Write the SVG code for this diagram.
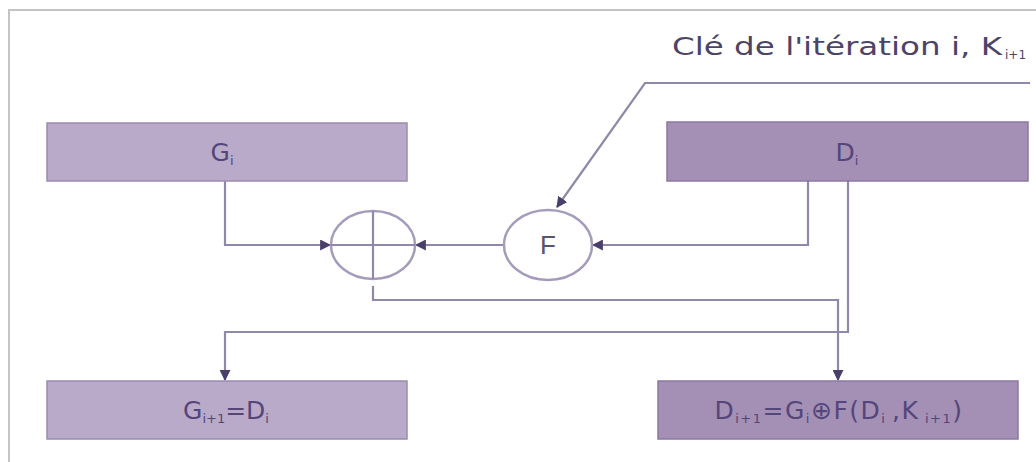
<svg xmlns="http://www.w3.org/2000/svg" width="1036" height="462" viewBox="0 0 1036 462">
  <style>
    .frame { fill: none; stroke: #c4c4c8; stroke-width: 2; }
    .boxL { fill: #b9aac9; stroke: #9a8cae; stroke-width: 1.5; }
    .boxD { fill: #a48fb5; stroke: #8a78a0; stroke-width: 1.5; }
    .op { fill: #ffffff; stroke: #a59cbc; stroke-width: 2.5; }
    .wire { fill: none; stroke: #9088a8; stroke-width: 2.2; }
    .lbl { font-family: "DejaVu Sans", "Liberation Sans", sans-serif; fill: #54467a; font-size: 25px; }
    .sub { font-size: 13px; }
    .key { font-family: "DejaVu Sans", "Liberation Sans", sans-serif; fill: #4c4466; font-size: 25px; }
    .keysub { font-family: "DejaVu Sans", "Liberation Sans", sans-serif; fill: #4c4466; font-size: 12px; }
    .f { font-family: "Liberation Sans", "DejaVu Sans", sans-serif; fill: #5a5468; font-size: 26px; }
  </style>
  <defs>
    <marker id="arrow" viewBox="0 0 10 10" refX="9" refY="5" markerWidth="11" markerHeight="11" markerUnits="userSpaceOnUse" orient="auto">
      <path d="M0,0 L10,5 L0,10 z" fill="#4a3f6a"/>
    </marker>
  </defs>

  <!-- outer frame -->
  <path class="frame" d="M9,462 L9,10 L1036,10"/>

  <!-- connectors -->
  <g id="connectors">
    <!-- G_i down and right into XOR -->
    <path class="wire" d="M225,181 L225,245 L330,245" marker-end="url(#arrow)"/>
    <!-- D_i into F -->
    <path class="wire" d="M808,181 L808,245 L593,245" marker-end="url(#arrow)"/>
    <!-- F output into XOR -->
    <path class="wire" d="M504,245 L416,245" marker-end="url(#arrow)"/>
    <!-- round key into F -->
    <path class="wire" d="M1030,83 L645,83 L557,207" marker-end="url(#arrow)"/>
    <!-- XOR output to D_{i+1} -->
    <path class="wire" d="M373,286 L373,300 L838,300 L838,380" marker-end="url(#arrow)"/>
    <!-- D_i to G_{i+1} -->
    <path class="wire" d="M848,181 L848,332 L225,332 L225,380" marker-end="url(#arrow)"/>
  </g>

  <!-- key label -->
  <g id="key-label">
    <text class="key" x="672" y="55" textLength="330" lengthAdjust="spacingAndGlyphs">Clé de l'itération i, K</text>
    <text class="keysub" x="1005" y="59">i+1</text>
  </g>

  <g id="node-Gi">
    <rect class="boxL" x="47" y="123" width="360" height="58"/>
    <text class="lbl" x="222" y="161" text-anchor="middle">G<tspan class="sub" dy="4">i</tspan></text>
  </g>

  <g id="node-Di">
    <rect class="boxD" x="667" y="122" width="361" height="59"/>
    <text class="lbl" x="847" y="161" text-anchor="middle">D<tspan class="sub" dy="4">i</tspan></text>
  </g>

  <g id="node-xor">
    <ellipse class="op" cx="373" cy="245" rx="42" ry="34"/>
    <path class="wire" d="M331,245 L415,245 M373,211 L373,279"/>
  </g>

  <g id="node-F">
    <ellipse class="op" cx="548" cy="245" rx="44" ry="35"/>
    <text class="f" x="548" y="254" text-anchor="middle">F</text>
  </g>

  <g id="node-Gi1">
    <rect class="boxL" x="47" y="381" width="360" height="58"/>
    <text class="lbl" x="226" y="419" text-anchor="middle">G<tspan class="sub" dy="4">i+1</tspan><tspan dy="-4">=D</tspan><tspan class="sub" dy="4">i</tspan></text>
  </g>

  <g id="node-Di1">
    <rect class="boxD" x="658" y="381" width="360" height="58"/>
    <text class="lbl" x="839" y="419" text-anchor="middle" letter-spacing="1.5">D<tspan class="sub" dy="4">i+1</tspan><tspan dy="-4">=G</tspan><tspan class="sub" dy="4">i</tspan><tspan dy="-4">⊕F(D</tspan><tspan class="sub" dy="4">i </tspan><tspan dy="-4">,K</tspan><tspan class="sub" dy="4"> i+1</tspan><tspan dy="-4">)</tspan></text>
  </g>
</svg>
